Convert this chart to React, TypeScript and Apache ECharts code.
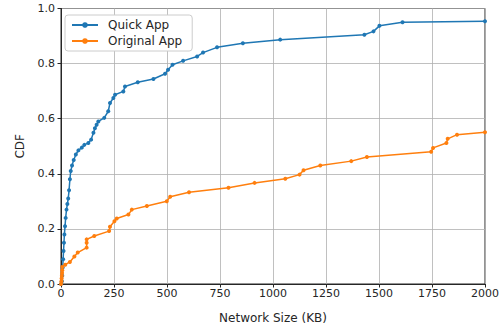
import React, { useEffect, useRef } from "react";
import * as echarts from "echarts";

const xTicks = [0, 250, 500, 750, 1000, 1250, 1500, 1750, 2000];
const yTicks = [0, 0.2, 0.4, 0.6, 0.8, 1.0];

const quickX = [0, 4, 6, 8, 10, 12, 14, 16, 19, 22, 26, 30, 34, 38, 42, 46, 52, 60, 70, 82, 98, 110, 129, 142, 153, 160, 168, 176, 204, 223, 231, 247, 255, 294, 302, 362, 436, 491, 505, 526, 576, 642, 670, 736, 858, 1034, 1431, 1474, 1502, 1611, 2000];
const quickY = [0, 0.01, 0.03, 0.06, 0.09, 0.12, 0.15, 0.18, 0.21, 0.24, 0.27, 0.29, 0.31, 0.34, 0.38, 0.41, 0.43, 0.45, 0.47, 0.485, 0.495, 0.505, 0.512, 0.524, 0.549, 0.565, 0.578, 0.59, 0.603, 0.627, 0.657, 0.675, 0.687, 0.699, 0.717, 0.732, 0.744, 0.763, 0.778, 0.796, 0.81, 0.826, 0.84, 0.859, 0.874, 0.887, 0.905, 0.917, 0.937, 0.95, 0.954];

const origX = [0, 2, 3, 4, 5, 6, 6, 20, 42, 63, 79, 121, 121, 121, 157, 227, 231, 252, 263, 318, 334, 405, 499, 515, 604, 790, 913, 1058, 1125, 1144, 1223, 1369, 1443, 1746, 1755, 1818, 1824, 1868, 2000];
const origY = [0, 0.01, 0.02, 0.03, 0.04, 0.05, 0.062, 0.07, 0.08, 0.1, 0.114, 0.132, 0.15, 0.162, 0.174, 0.192, 0.208, 0.228, 0.238, 0.252, 0.27, 0.283, 0.3, 0.317, 0.333, 0.349, 0.367, 0.382, 0.397, 0.413, 0.43, 0.446, 0.461, 0.48, 0.494, 0.512, 0.527, 0.542, 0.551];

const BLUE = "#1f77b4";
const ORANGE = "#ff7f0e";
const FONT = "DejaVu Sans";

export default function App() {
  const ref = useRef<HTMLDivElement>(null);
  useEffect(() => {
    if (!ref.current) return;
    const chart = echarts.init(ref.current, null, { renderer: "svg" });
    const axisLabel = { color: "#262626", fontFamily: FONT, fontSize: 11 };
    chart.setOption({
      animation: false,
      backgroundColor: "#ffffff",
      grid: {
        left: 61,
        right: 19,
        top: 8.5,
        bottom: 44.3,
        show: true,
        borderColor: "#262626",
        borderWidth: 1,
      },
      legend: {
        orient: "vertical",
        left: 65,
        top: 15,
        itemGap: 4,
        itemWidth: 26,
        itemHeight: 7,
        padding: [4, 10, 4, 6],
        backgroundColor: "#ffffff",
        borderColor: "#cccccc",
        borderWidth: 1,
        borderRadius: 3,
        textStyle: { fontFamily: FONT, fontSize: 12, color: "#262626", padding: [0, 0, 0, 5] },
        data: ["Quick App", "Original App"],
      },
      xAxis: {
        type: "value",
        min: 0,
        max: 2000,
        interval: 250,
        name: "Network Size (KB)",
        nameLocation: "middle",
        nameGap: 28,
        nameTextStyle: { fontFamily: FONT, fontSize: 12, color: "#262626" },
        axisLine: { show: true, lineStyle: { color: "#262626", width: 1 } },
        axisTick: { show: true, length: 3.5, lineStyle: { color: "#262626" } },
        axisLabel: { ...axisLabel, margin: 4, formatter: (v: number) => (xTicks.includes(v) ? String(v) : "") },
        splitLine: { show: true, lineStyle: { color: "#b0b0b0", width: 0.8 } },
      },
      yAxis: {
        type: "value",
        min: 0,
        max: 1,
        interval: 0.2,
        name: "CDF",
        nameLocation: "middle",
        nameGap: 35,
        nameTextStyle: { fontFamily: FONT, fontSize: 12, color: "#262626" },
        axisLine: { show: true, lineStyle: { color: "#262626", width: 1 } },
        axisTick: { show: true, length: 3.5, lineStyle: { color: "#262626" } },
        axisLabel: { ...axisLabel, margin: 6, formatter: (v: number) => (yTicks.some((t) => Math.abs(t - v) < 1e-9) ? v.toFixed(1) : "") },
        splitLine: { show: true, lineStyle: { color: "#b0b0b0", width: 0.8 } },
      },
      series: [
        {
          name: "Quick App",
          type: "line",
          data: quickX.map((x, i) => [x, quickY[i]]),
          symbol: "circle",
          symbolSize: 4,
          showSymbol: true,
          lineStyle: { color: BLUE, width: 1.5 },
          itemStyle: { color: BLUE },
        },
        {
          name: "Original App",
          type: "line",
          data: origX.map((x, i) => [x, origY[i]]),
          symbol: "circle",
          symbolSize: 4,
          showSymbol: true,
          lineStyle: { color: ORANGE, width: 1.5 },
          itemStyle: { color: ORANGE },
        },
      ],
    });
    return () => chart.dispose();
  }, []);
  return <div ref={ref} style={{ width: 504, height: 329, position: "absolute", left: 0, top: 0 }} />;
}
